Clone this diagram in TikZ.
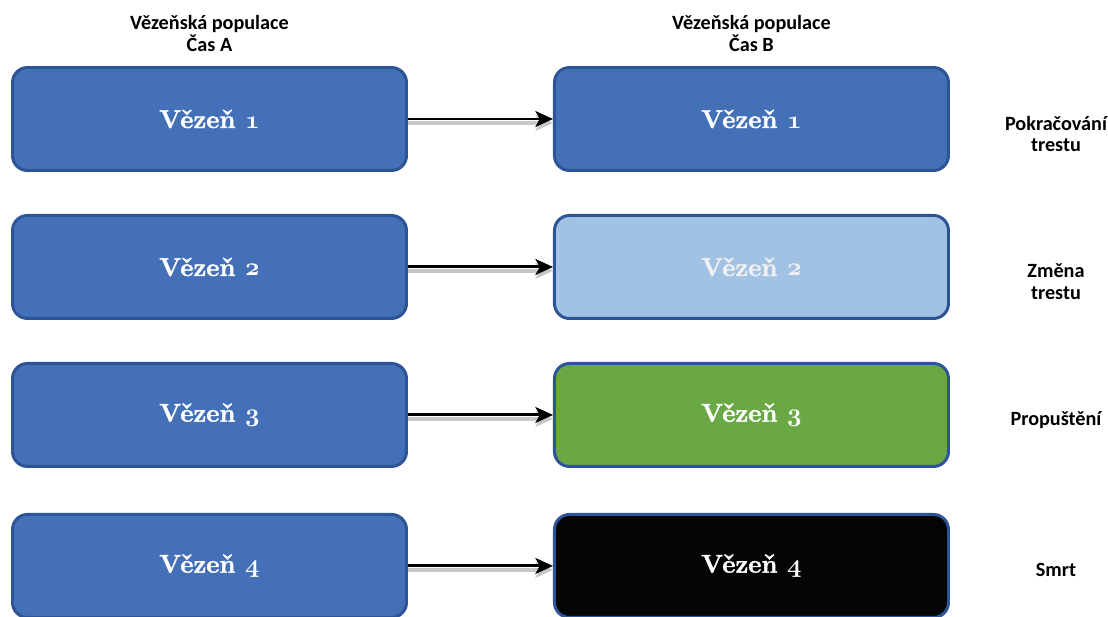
\documentclass[tikz,border=0pt]{standalone}
\usepackage{fontspec}
\newfontfamily\hdrfont{Carlito}
\newfontfamily\boxfont[BoldFeatures={FakeBold=1.6}]{Latin Modern Roman}
\usetikzlibrary{positioning,calc,arrows.meta}
\definecolor{boxblue}{RGB}{67,112,182}
\definecolor{boxedge}{RGB}{44,84,150}
\definecolor{paleblue}{RGB}{162,194,228}
\definecolor{grassgreen}{RGB}{106,168,70}
\newcommand{\osnum}[1]{{\usefont{OML}{cmm}{bx}{it}#1}}
\newcommand{\stack}[1]{\begin{tabular}[t]{@{}c@{}}#1\end{tabular}}

\begin{document}
\begin{tikzpicture}[
    node distance=0.84cm and 2.9cm,
    inmate/.style={rectangle,rounded corners=0.3cm,draw=boxedge,line width=1.7pt,fill=boxblue,text=white,minimum width=7.88cm,minimum height=2.06cm,font=\boxfont\fontsize{14.6}{17}\selectfont\bfseries},
    head/.style={font=\hdrfont\bfseries\fontsize{11.5}{12.5}\selectfont,align=center,inner sep=0pt,outer sep=0pt},
    outcome/.style={head,anchor=base},
    arr/.style={-{Stealth[length=10pt,width=9pt,inset=2.5pt]},line width=1.7pt,preaction={draw=black!22,line width=2.6pt,transform canvas={yshift=-2.2pt}}}
    ]
        \useasboundingbox (0,0) rectangle (22.16,-12.32);
        \clip (0,0) rectangle (22.16,-12.32);

        % time A
        \node [inmate](a1) at (4.19,-2.38) {Vězeň \osnum{1}};
        \node [inmate](a2) [below=of a1] {Vězeň \osnum{2}};
        \node [inmate](a3) [below=of a2] {Vězeň \osnum{3}};
        \node [inmate](a4) [below=0.9cm of a3] {Vězeň \osnum{4}};
        % time B
        \node [inmate](b1) [right=of a1] {Vězeň \osnum{1}};
        \node [inmate,fill=paleblue,text=white!94!black](b2) [right=of a2] {Vězeň \osnum{2}};
        \node [inmate,fill=grassgreen](b3) [right=of a3] {Vězeň \osnum{3}};
        \node [inmate,fill=black!98](b4) [right=of a4] {Vězeň \osnum{4}};

        \node [head](ha) [above=0.28cm of a1] {Vězeňská populace\\Čas A};
        \node [head](hb) [above=0.28cm of b1] {Vězeňská populace\\Čas B};

        \node [outcome](o1) at ($(b1.east)+(2.12,-0.22)$) {\stack{Pokračování\\trestu}};
        \node [outcome](o2) at ($(b2.east)+(2.12,-0.22)$) {\stack{Změna\\trestu}};
        \node [outcome](o3) at ($(b3.east)+(2.12,-0.22)$) {Propuštění};
        \node [outcome](o4) at ($(b4.east)+(2.12,-0.22)$) {Smrt};

        \draw [arr] (a1) -- (b1);
        \draw [arr] (a2) -- (b2);
        \draw [arr] (a3) -- (b3);
        \draw [arr] (a4) -- (b4);
\end{tikzpicture}
\end{document}
